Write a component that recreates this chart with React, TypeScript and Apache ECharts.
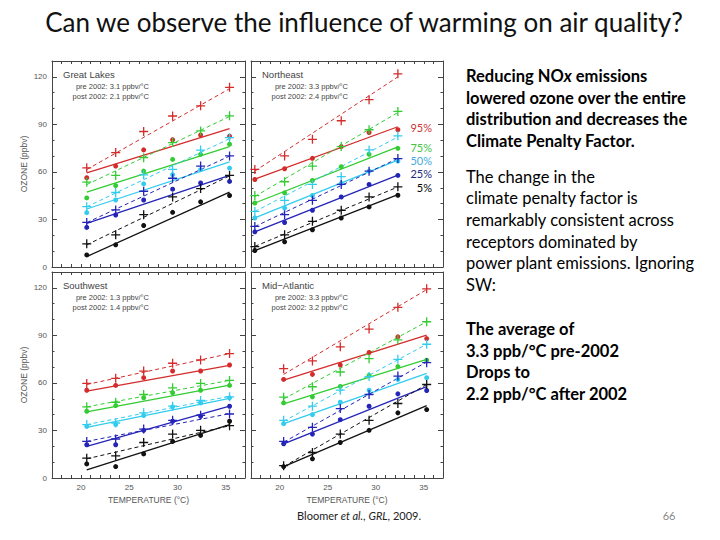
import React, { useEffect, useRef } from 'react';
import * as echarts from 'echarts';

// ---------- data ----------
const PERCENTILES = ['95%', '75%', '50%', '25%', '5%'];
const X_TICK_LABELS = [20, 25, 30, 35];
const Y_TICK_LABELS = [0, 30, 60, 90, 120];

// temperature bins (°C)
const GL_T = [20.6, 23.6, 26.5, 29.5, 32.4, 35.4];
const NE_T = [17.4, 20.5, 23.4, 26.4, 29.3, 32.3];
const SW_T = [20.6, 23.6, 26.5, 29.5, 32.4, 35.4];
const MA_T = [20.4, 23.4, 26.3, 29.3, 32.3, 35.3];

// ozone (ppbv), rows = 95,75,50,25,5 percentiles
const GL_PRE = [
  [62.6, 72.2, 85.5, 95.3, 101.7, 113.4],
  [53.5, 57.8, 69.0, 78.5, 85.9, 95.4],
  [38.1, 47.0, 58.2, 61.6, 73.8, 81.6],
  [28.1, 36.0, 47.8, 56.0, 63.7, 70.1],
  [14.6, 20.3, 33.0, 44.2, 49.5, 57.8],
];
const GL_POST = [
  [56.3, 63.7, 73.9, 80.3, 83.3, 82.5],
  [43.6, 51.4, 60.5, 67.9, 71.1, 77.5],
  [34.3, 42.3, 52.5, 58.2, 61.4, 62.4],
  [25.0, 32.8, 42.3, 49.1, 53.0, 54.0],
  [7.6, 14.0, 26.2, 34.5, 41.1, 45.1],
];
const GL_PRE_FIT = [[61.5, 112.5], [52.0, 95.0], [38.0, 81.0], [28.0, 70.0], [14.0, 57.5]];
const GL_POST_FIT = [[59.4, 87.4], [47.2, 76.0], [36.6, 66.4], [27.5, 57.8], [6.6, 47.2]];

const NE_PRE = [
  [61.6, 70.1, 80.6, 92.3, 105.6, 121.9],
  [45.1, 53.8, 63.7, 76.0, 86.6, 98.2],
  [35.1, 42.1, 52.1, 57.0, 73.9, 82.8],
  [25.6, 33.0, 42.1, 52.1, 60.5, 68.4],
  [12.9, 20.3, 28.8, 35.8, 44.2, 50.6],
];
const NE_POST = [
  [55.2, 62.0, 68.6, 76.0, 84.9, 86.6],
  [40.4, 46.8, 54.6, 63.3, 71.1, 74.9],
  [30.9, 37.2, 45.1, 52.7, 60.5, 66.9],
  [22.2, 28.1, 35.8, 44.2, 52.1, 57.8],
  [10.4, 15.9, 23.5, 30.9, 37.9, 45.3],
];
const NE_PRE_FIT = [[60.5, 120.0], [44.5, 97.5], [35.0, 82.0], [25.5, 68.5], [13.0, 50.5]];
const NE_POST_FIT = [[55.5, 88.5], [40.4, 75.8], [31.0, 67.5], [22.2, 58.0], [10.4, 45.7]];

const SW_PRE = [
  [59.7, 62.9, 67.5, 72.4, 74.5, 78.5],
  [44.9, 47.8, 52.7, 56.9, 59.7, 61.6],
  [33.7, 34.7, 41.1, 45.3, 48.9, 51.2],
  [23.1, 24.6, 30.9, 36.4, 39.6, 40.4],
  [12.5, 14.0, 22.4, 27.7, 30.1, 33.0],
];
const SW_POST = [
  [55.4, 58.4, 63.3, 67.5, 67.5, 71.3],
  [42.1, 45.7, 50.6, 53.8, 55.4, 58.4],
  [32.6, 33.7, 39.4, 44.9, 47.4, 50.6],
  [21.0, 21.0, 30.1, 35.8, 38.9, 45.3],
  [8.9, 7.2, 15.2, 23.1, 26.9, 35.8],
];
const SW_PRE_FIT = [[59.0, 78.5], [44.9, 61.6], [33.7, 51.6], [23.1, 40.6], [12.1, 33.0]];
const SW_POST_FIT = [[54.8, 71.1], [41.7, 58.6], [32.0, 50.2], [19.9, 45.3], [5.1, 33.7]];

const MA_PRE = [
  [69.0, 73.9, 82.8, 94.0, 107.7, 119.4],
  [51.0, 57.6, 66.9, 75.3, 87.2, 98.6],
  [36.4, 45.3, 55.4, 64.0, 74.9, 84.4],
  [23.1, 32.0, 43.8, 52.7, 64.3, 72.8],
  [7.8, 16.1, 27.7, 36.4, 47.0, 59.0],
];
const MA_POST = [
  [62.2, 65.4, 71.3, 79.2, 89.1, 88.0],
  [47.4, 51.2, 57.8, 64.8, 70.3, 74.3],
  [34.3, 40.0, 47.8, 55.4, 62.2, 63.3],
  [21.6, 27.7, 36.8, 45.3, 53.1, 55.2],
  [7.2, 12.1, 22.4, 30.1, 41.1, 43.2],
];
const MA_PRE_FIT = [[65.4, 118.9], [49.9, 98.6], [35.8, 84.4], [22.6, 73.2], [7.2, 59.0]];
const MA_POST_FIT = [[61.8, 90.2], [46.8, 74.9], [34.3, 66.0], [21.6, 57.6], [7.2, 45.7]];

const PANEL_NAMES = ['Great Lakes', 'Northeast', 'Southwest', 'Mid\u2212Atlantic'];
const PANEL_PRE = ['pre 2002: 3.1 ppbv/\u00b0C', 'pre 2002: 3.3 ppbv/\u00b0C', 'pre 2002: 1.3 ppbv/\u00b0C', 'pre 2002: 3.3 ppbv/\u00b0C'];
const PANEL_POST = ['post 2002: 2.1 ppbv/\u00b0C', 'post 2002: 2.4 ppbv/\u00b0C', 'post 2002: 1.4 ppbv/\u00b0C', 'post 2002: 3.2 ppbv/\u00b0C'];

const TITLE = 'Can we observe the influence of warming on air quality?';
const NOTE_BOLD_1 = ['lowered ozone over the entire', 'distribution and decreases the', 'Climate Penalty Factor.'];
const NOTE_PLAIN = ['The change in the', 'climate penalty factor is', 'remarkably consistent across', 'receptors dominated by', 'power plant emissions. Ignoring', 'SW:'];
const NOTE_BOLD_2 = ['The average of', '3.3 ppb/\u00b0C pre-2002', 'Drops to', '2.2 ppb/\u00b0C after 2002'];

// ---------- styling ----------
const COLORS = ['#d42b2b', '#33cc33', '#33ccee', '#2424b8', '#111111'];
const LEGEND_COLORS = ['#cc3333', '#44c444', '#44aadd', '#1c2a7c', '#000000'];
const AX = '#444';
const PLOT_FONT = '"Liberation Sans", Arial, sans-serif';
const SLIDE_FONT = 'Lato, Carlito, "Open Sans", sans-serif';
const NOTE_SIZE = 16.5;

const GRIDS = [
  { left: 52, top: 61, width: 193, height: 206 },
  { left: 251, top: 61, width: 192, height: 206 },
  { left: 52, top: 272, width: 193, height: 206 },
  { left: 251, top: 272, width: 192, height: 206 },
];

const PANELS = [
  { t: GL_T, pre: GL_PRE, post: GL_POST, preFit: GL_PRE_FIT, postFit: GL_POST_FIT },
  { t: NE_T, pre: NE_PRE, post: NE_POST, preFit: NE_PRE_FIT, postFit: NE_POST_FIT },
  { t: SW_T, pre: SW_PRE, post: SW_POST, preFit: SW_PRE_FIT, postFit: SW_POST_FIT },
  { t: MA_T, pre: MA_PRE, post: MA_POST, preFit: MA_PRE_FIT, postFit: MA_POST_FIT },
];

const PLUS = 'path://M0,5L10,5M5,0L5,10';

function buildOption() {
  const xAxis: any[] = [];
  const yAxis: any[] = [];
  GRIDS.forEach((_, i) => {
    const bottomRow = i >= 2;
    const leftCol = i % 2 === 0;
    ['bottom', 'top'].forEach((pos, k) => {
      const labels = k === 0 && bottomRow;
      xAxis.push({
        type: 'value', gridIndex: i, position: pos, min: 17, max: 37, interval: 1,
        axisLine: { show: true, onZero: false, lineStyle: { color: AX, width: 1 } },
        axisTick: { show: true, inside: true, length: 3, lineStyle: { color: AX } },
        axisLabel: {
          show: labels, customValues: X_TICK_LABELS, fontSize: 8, color: '#555',
          fontFamily: PLOT_FONT, margin: 5,
        },
        splitLine: { show: false },
        name: labels ? 'TEMPERATURE (\u00b0C)' : '', nameLocation: 'middle', nameGap: 17,
        nameTextStyle: { fontSize: 8.5, color: '#555', fontFamily: PLOT_FONT },
      });
    });
    ['left', 'right'].forEach((pos, k) => {
      const labels = k === 0 && leftCol;
      yAxis.push({
        type: 'value', gridIndex: i, position: pos, min: 0, max: 130, interval: 30,
        axisLine: { show: true, onZero: false, lineStyle: { color: AX, width: 1 } },
        axisTick: { show: true, inside: true, length: 5, lineStyle: { color: AX } },
        minorTick: { show: true, splitNumber: 3, length: 2.5, lineStyle: { color: AX } },
        axisLabel: {
          show: labels, customValues: Y_TICK_LABELS, fontSize: 8,
          color: '#555', fontFamily: PLOT_FONT, margin: 5,
        },
        splitLine: { show: false },
        name: labels ? 'OZONE (ppbv)' : '', nameLocation: 'middle', nameGap: 24, nameRotate: 90,
        nameTextStyle: { fontSize: 8.5, color: '#555', fontFamily: PLOT_FONT },
      });
    });
  });

  const series: any[] = [];
  PANELS.forEach((p, i) => {
    const xi = 2 * i;
    const yi = 2 * i;
    const t0 = p.t[0];
    const t1 = p.t[p.t.length - 1];
    PERCENTILES.forEach((pc, k) => {
      const c = COLORS[k];
      series.push({
        type: 'line', xAxisIndex: xi, yAxisIndex: yi, name: pc + ' pre fit', z: 2,
        data: [[t0, p.preFit[k][0]], [t1, p.preFit[k][1]]], symbol: 'none',
        lineStyle: { color: c, width: 1, type: [4, 3] }, silent: true,
      });
      series.push({
        type: 'line', xAxisIndex: xi, yAxisIndex: yi, name: pc + ' post fit', z: 2,
        data: [[t0, p.postFit[k][0]], [t1, p.postFit[k][1]]], symbol: 'none',
        lineStyle: { color: c, width: 1.3 }, silent: true,
      });
      series.push({
        type: 'scatter', xAxisIndex: xi, yAxisIndex: yi, name: pc + ' pre', z: 3,
        data: p.t.map((x, j) => [x, p.pre[k][j]]), symbol: PLUS, symbolSize: 9,
        itemStyle: { color: 'rgba(0,0,0,0)', borderColor: c, borderWidth: 1.3, opacity: 1 },
      });
      series.push({
        type: 'scatter', xAxisIndex: xi, yAxisIndex: yi, name: pc + ' post', z: 3,
        data: p.t.map((x, j) => [x, p.post[k][j]]), symbol: 'circle', symbolSize: 5,
        itemStyle: { color: c, opacity: 1 },
      });
    });
  });

  const graphic: any[] = [];
  // title
  graphic.push({
    type: 'text', x: 364, y: 22,
    style: { text: TITLE, fill: '#111', fontSize: 26, fontFamily: SLIDE_FONT, align: 'center', verticalAlign: 'middle' },
  });
  // panel annotations
  GRIDS.forEach((g, i) => {
    const lx = g.left + 11;
    const rx = g.left + 97;
    const ty = g.top + 13;
    graphic.push({ type: 'text', x: lx, y: ty, style: { text: PANEL_NAMES[i], fill: '#444', fontSize: 9.5, fontFamily: PLOT_FONT, align: 'left', verticalAlign: 'middle' } });
    graphic.push({ type: 'text', x: rx, y: ty + 12, style: { text: PANEL_PRE[i], fill: '#444', fontSize: 7.5, fontFamily: PLOT_FONT, align: 'right', verticalAlign: 'middle' } });
    graphic.push({ type: 'text', x: rx, y: ty + 22, style: { text: PANEL_POST[i], fill: '#444', fontSize: 7.5, fontFamily: PLOT_FONT, align: 'right', verticalAlign: 'middle' } });
  });
  // percentile legend
  const legendY = [127, 147, 160, 173, 187];
  PERCENTILES.forEach((pc, k) => {
    graphic.push({ type: 'text', x: 432, y: legendY[k], style: { text: pc, fill: LEGEND_COLORS[k], fontSize: 11, fontFamily: SLIDE_FONT, align: 'right', verticalAlign: 'middle' } });
  });
  // right notes
  const noteX = 466;
  graphic.push({
    type: 'text', x: noteX, y: 76,
    style: {
      text: '{b|Reducing NO}{i|x}{b| emissions}', verticalAlign: 'middle', align: 'left',
      rich: {
        b: { fontSize: NOTE_SIZE, fontWeight: 'bold', fontFamily: SLIDE_FONT, fill: '#000' },
        i: { fontSize: NOTE_SIZE, fontWeight: 'bold', fontStyle: 'italic', fontFamily: SLIDE_FONT, fill: '#000' },
      },
    },
  });
  NOTE_BOLD_1.forEach((s, k) => {
    graphic.push({ type: 'text', x: noteX, y: 97.5 + k * 21.5, style: { text: s, fill: '#000', fontSize: NOTE_SIZE, fontWeight: 'bold', fontFamily: SLIDE_FONT, align: 'left', verticalAlign: 'middle' } });
  });
  NOTE_PLAIN.forEach((s, k) => {
    graphic.push({ type: 'text', x: noteX, y: 176.5 + k * 21.7, style: { text: s, fill: '#000', fontSize: NOTE_SIZE, fontFamily: SLIDE_FONT, align: 'left', verticalAlign: 'middle' } });
  });
  NOTE_BOLD_2.forEach((s, k) => {
    graphic.push({ type: 'text', x: noteX, y: 329 + k * 21.5, style: { text: s, fill: '#000', fontSize: NOTE_SIZE, fontWeight: 'bold', fontFamily: SLIDE_FONT, align: 'left', verticalAlign: 'middle' } });
  });
  // footer
  graphic.push({
    type: 'text', x: 359, y: 515,
    style: {
      text: '{n|Bloomer }{i|et al.}{n|, }{i|GRL}{n|, 2009.}', align: 'center', verticalAlign: 'middle',
      rich: {
        n: { fontSize: 11, fontFamily: SLIDE_FONT, fill: '#222' },
        i: { fontSize: 11, fontStyle: 'italic', fontFamily: SLIDE_FONT, fill: '#222' },
      },
    },
  });
  graphic.push({ type: 'text', x: 669, y: 515, style: { text: '66', fill: '#888', fontSize: 11, fontFamily: SLIDE_FONT, align: 'center', verticalAlign: 'middle' } });

  return {
    animation: false,
    backgroundColor: '#ffffff',
    grid: GRIDS.map((g) => ({ ...g, containLabel: false })),
    xAxis,
    yAxis,
    series,
    graphic,
  };
}

export default function App() {
  const ref = useRef<HTMLDivElement>(null);
  useEffect(() => {
    if (!ref.current) return;
    const chart = echarts.init(ref.current, undefined, { renderer: 'svg' });
    chart.setOption(buildOption() as any);
    return () => chart.dispose();
  }, []);
  return (
    <div
      ref={ref}
      style={{ position: 'absolute', left: 0, top: 0, width: 720, height: 540, background: '#fff' }}
    />
  );
}
